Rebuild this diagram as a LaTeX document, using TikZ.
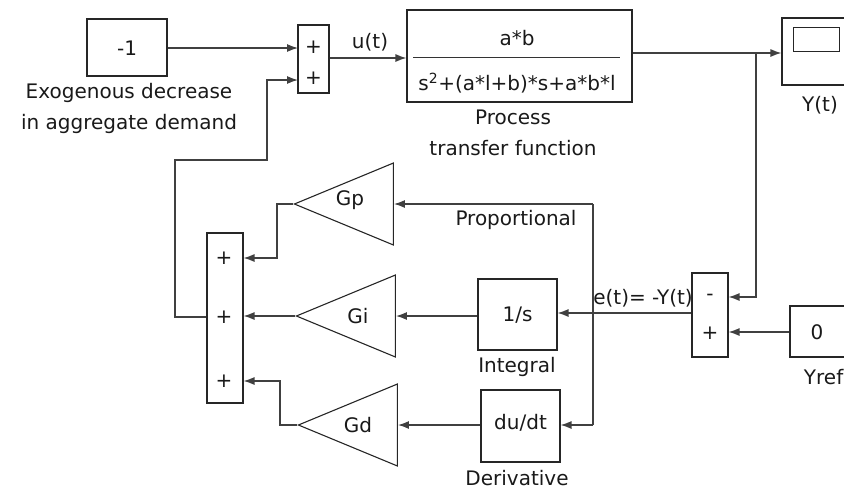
\documentclass[tikz,border=0pt]{standalone}
\usepackage{fontspec}
\setmainfont{DejaVu Sans}
\usetikzlibrary{arrows.meta,shapes.geometric}
\begin{document}
\begin{tikzpicture}[x=1pt,y=-1pt,
  blk/.style={draw=black!85, line width=1.1pt, inner sep=0pt, rectangle},
  txt/.style={font=\fontsize{20}{31}\selectfont, align=center, inner sep=0pt, text=black!90},
  wire/.style={line width=1.2pt, draw=black!75},
  arr/.style={wire, -{Latex[length=11pt,width=8pt]}},
  gain/.style={draw=black!85, line width=1.1pt, isosceles triangle, isosceles triangle stretches,
    shape border rotate=180, minimum width=82pt, minimum height=99pt, inner sep=0pt, anchor=apex}]
\useasboundingbox (0,0) rectangle (844,491);

% source, adder and plant
\node[blk, minimum width=80pt, minimum height=57pt] (neg) at (127,47.5) {};
\node[txt] at (127,48) {-1};
\node[txt] (exo) at (129,108) {Exogenous decrease\\in aggregate demand};

\node[blk, minimum width=31pt, minimum height=68pt] (sumA) at (313.5,59) {};
\node[txt] at (313.5,47) {+};
\node[txt] at (313.5,78) {+};
\coordinate (sumAin1) at (298,48);
\coordinate (sumAin2) at (298,80);

\node[blk, minimum width=225pt, minimum height=92pt] (proc) at (519.5,56) {};
\node[txt] (num) at (517,38) {a*b};
\node[txt] (den) at (517,83) {s\textsuperscript{2}+(a*l+b)*s+a*b*l};
\draw[line width=0.8pt, black!80] (413,57) -- (620,57);
\node[txt] (ptf) at (513,132.5) {Process\\transfer function};
\node[txt] at (370,42) {u(t)};

% scope
\node[blk, minimum width=70pt, minimum height=67pt] (scope) at (817,51.5) {};
\draw[line width=1pt, black!85] (793,27) rectangle (839,51);
\node[txt] at (820,105) {Y(t)};

% error adder and reference
\node[blk, minimum width=36pt, minimum height=84pt] (sumB) at (710,315) {};
\node[txt] at (710,297) {-};
\node[txt] at (710,333) {+};
\node[blk, minimum width=64pt, minimum height=51pt] (yref) at (822,331.5) {};
\node[txt] at (817,332) {0};
\node[txt, anchor=east] at (843.5,377) {Yref};
\node[txt] at (643,298) {e(t)= -Y(t)};

% integral and derivative blocks
\node[blk, minimum width=79pt, minimum height=71pt] (integ) at (517.5,314.5) {};
\node[txt] at (517.5,315) {1/s};
\node[txt] at (517,367) {Integral};
\node[blk, minimum width=79pt, minimum height=72pt] (deriv) at (520.5,426) {};
\node[txt] at (520.5,423) {du/dt};
\node[txt] at (517,478) {Derivative};
\node[txt] at (516,220) {Proportional};

% gains
\node[gain] (gp) at (293,204) {};
\node[txt] at (350,200) {Gp};
\node[gain] (gi) at (295,316) {};
\node[txt] at (358,316) {Gi};
\node[gain] (gd) at (297,425) {};
\node[txt] at (358,425) {Gd};

% controller adder
\node[blk, minimum width=36pt, minimum height=170pt] (sumC) at (225,318) {};
\node[txt] at (224,258) {+};
\node[txt] at (224,317) {+};
\node[txt] at (224,381) {+};

% forward path
\draw[arr] (neg.east |- sumAin1) -- (sumAin1);
\draw[arr] (sumA.east |- 0,58) -- (proc.west |- 0,58);
\draw[arr] (proc.east |- 0,53) -- (scope.west |- 0,53);
\coordinate (br) at (756,53);
\draw[arr] (br) -- (756,297) -- (sumB.east |- 0,297);
\draw[arr] (yref.west |- 0,332) -- (sumB.east |- 0,332);

% error distribution
\coordinate (eb) at (593,313);
\draw[arr] (sumB.west |- eb) -- (integ.east |- eb);
\draw[wire] (593,204) -- (593,425);
\draw[arr] (593,204) -- (gp.lower side);
\draw[arr] (593,425) -- (deriv.east |- 0,425);
\draw[arr] (integ.west |- gi) -- (gi.lower side);
\draw[arr] (deriv.west |- 0,425) -- (gd.lower side);

% gains into controller adder
\draw[arr] (gp.apex) -- (277,204) -- (277,258) -- (sumC.east |- 0,258);
\draw[arr] (gi.apex) -- (sumC.east |- gi.apex);
\draw[arr] (gd.apex) -- (280,425) -- (280,381) -- (sumC.east |- 0,381);

% controller output back to the first adder
\draw[arr] (sumC.west |- 0,317) -- (175,317) -- (175,160) -- (267,160) -- (267,80) -- (sumAin2);
\end{tikzpicture}
\end{document}
